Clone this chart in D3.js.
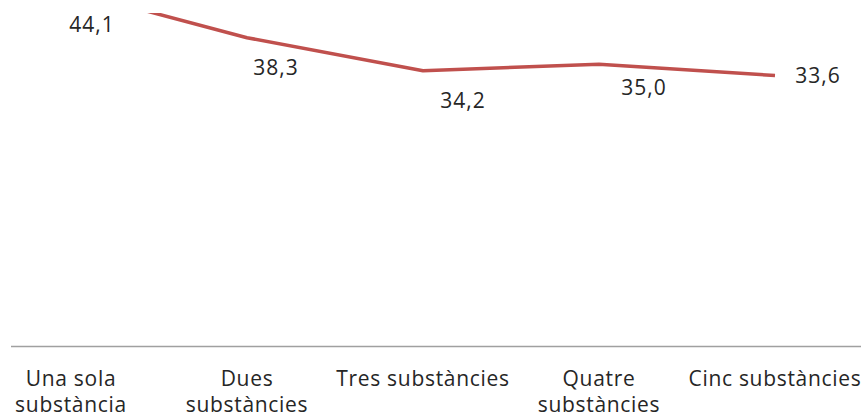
<!DOCTYPE html>
<html>
<head>
<meta charset="utf-8">
<script src="https://cdn.jsdelivr.net/npm/d3@7"></script>
<style>
    body { margin: 0; background: #fff; }
    svg { display: block; }
    text { font-family: "Open Sans", "DejaVu Sans", sans-serif; fill: #262626; }
</style>
</head>
<body>
<div id="chart"></div>
<script>
// Data
var categories = ['Una sola substància', 'Dues substàncies', 'Tres substàncies', 'Quatre substàncies', 'Cinc substàncies'];
var category_lines = [['Una sola', 'substància'], ['Dues', 'substàncies'], ['Tres substàncies'], ['Quatre', 'substàncies'], ['Cinc substàncies']];
var values = [44.1, 38.3, 34.2, 35.0, 33.6];
var value_labels = ['44,1', '38,3', '34,2', '35,0', '33,6'];

// label nudges (dx to text centre, dy to baseline) relative to each point
var label_offsets = [[21, 41], [29, 37], [40, 37], [45, 31], [43, 7]];

// Chart params
var chart_width  = 861;
var chart_height = 419;
var axis_y       = 346;
var line_color   = '#c0504d';

var svg = d3.select('#chart')
    .append('svg')
    .attr('width', chart_width)
    .attr('height', chart_height);

// Scales
var x_scale = d3.scalePoint()
    .domain(categories)
    .range([71, 775]);

var y_scale = d3.scaleLinear()
    .domain([0, 45])
    .range([axis_y, axis_y - 45 * 8.05]);

// plot area clip (the top of the line runs out of it)
svg.append('clipPath')
    .attr('id', 'plot-clip')
    .append('rect')
    .attr('x', 0)
    .attr('y', 13)
    .attr('width', chart_width)
    .attr('height', axis_y - 13);

// Axis line
svg.append('line')
    .attr('x1', 11)
    .attr('x2', chart_width)
    .attr('y1', axis_y + 0.5)
    .attr('y2', axis_y + 0.5)
    .attr('stroke', '#a0a0a0')
    .attr('stroke-width', 1.5);

// Line
var line = d3.line()
    .x(function(d, i) { return x_scale(categories[i]); })
    .y(function(d) { return y_scale(d); });

svg.append('path')
    .datum(values)
    .attr('clip-path', 'url(#plot-clip)')
    .attr('d', line)
    .attr('fill', 'none')
    .attr('stroke', line_color)
    .attr('stroke-width', 3.5)
    .attr('stroke-linejoin', 'round');

// Value labels
svg.selectAll('.value-label')
    .data(values)
    .enter()
    .append('text')
    .attr('class', 'value-label')
    .attr('x', function(d, i) { return x_scale(categories[i]) + label_offsets[i][0]; })
    .attr('y', function(d, i) { return y_scale(d) + label_offsets[i][1]; })
    .attr('text-anchor', 'middle')
    .style('font-size', '21px')
    .style('letter-spacing', '1px')
    .text(function(d, i) { return value_labels[i]; });

// Category labels
var cat_groups = svg.selectAll('.cat-label')
    .data(categories)
    .enter()
    .append('text')
    .attr('class', 'cat-label')
    .attr('text-anchor', 'middle')
    .style('font-size', '21px')
    .style('letter-spacing', '0.7px');

cat_groups.each(function(d, i) {
    var t = d3.select(this);
    category_lines[i].forEach(function(ln, j) {
        t.append('tspan')
            .attr('x', x_scale(d))
            .attr('y', 386 + j * 26)
            .text(ln);
    });
});
</script>
</body>
</html>
